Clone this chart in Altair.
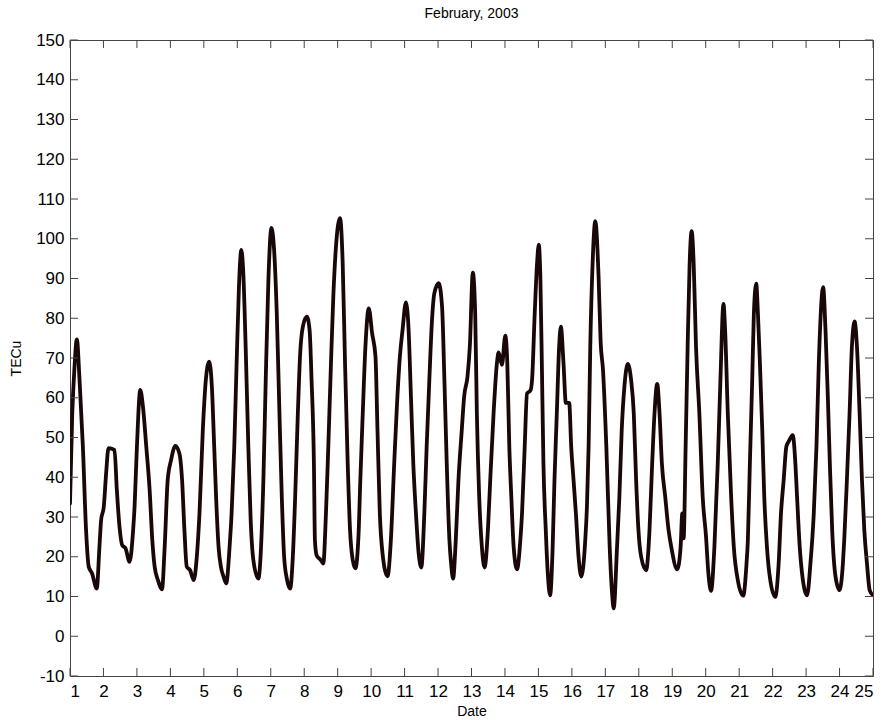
import altair as alt
import pandas as pd

chart_title = "February, 2003"
x_title = "Date"
y_title = "TECu"

days = [
    1.00, 1.066, 1.135, 1.205, 1.285, 1.385, 1.48, 1.56, 1.66, 1.80,
    1.88, 1.93, 2.01, 2.08, 2.15, 2.33, 2.40, 2.48, 2.56, 2.66,
    2.78, 2.88, 2.93, 3.00, 3.10, 3.18, 3.28, 3.38, 3.46, 3.53,
    3.63, 3.75, 3.83, 3.92, 4.02, 4.15, 4.27, 4.35, 4.42, 4.49,
    4.59, 4.70, 4.79, 4.87, 4.97, 5.06, 5.16, 5.24, 5.31, 5.37,
    5.44, 5.51, 5.59, 5.67, 5.77, 5.83, 5.91, 5.98, 6.05, 6.12,
    6.18, 6.25, 6.33, 6.40, 6.48, 6.63, 6.71, 6.78, 6.85, 6.93,
    7.02, 7.10, 7.18, 7.26, 7.33, 7.40, 7.48, 7.58, 7.66, 7.73,
    7.81, 7.88, 7.96, 8.08, 8.16, 8.22, 8.29, 8.32, 8.37, 8.49,
    8.57, 8.65, 8.72, 8.80, 8.87, 8.95, 9.07, 9.15, 9.22, 9.30,
    9.37, 9.45, 9.53, 9.63, 9.67, 9.75, 9.83, 9.93, 10.03, 10.13,
    10.19, 10.26, 10.34, 10.49, 10.59, 10.69, 10.77, 10.86, 10.94, 11.04,
    11.12, 11.19, 11.26, 11.34, 11.42, 11.50, 11.59, 11.66, 11.74, 11.82,
    11.89, 12.02, 12.12, 12.19, 12.26, 12.34, 12.39, 12.45, 12.53, 12.61,
    12.71, 12.78, 12.88, 12.95, 13.04, 13.11, 13.16, 13.23, 13.31, 13.39,
    13.49, 13.56, 13.66, 13.76, 13.81, 13.91, 14.01, 14.07, 14.13, 14.19,
    14.26, 14.36, 14.46, 14.51, 14.59, 14.66, 14.76, 14.81, 14.89, 14.96,
    15.01, 15.06, 15.11, 15.15, 15.22, 15.28, 15.35, 15.42, 15.48, 15.55,
    15.62, 15.67, 15.75, 15.82, 15.92, 15.98, 16.05, 16.12, 16.20, 16.28,
    16.40, 16.45, 16.50, 16.55, 16.62, 16.70, 16.80, 16.86, 16.93, 17.03,
    17.13, 17.20, 17.25, 17.35, 17.42, 17.49, 17.57, 17.67, 17.77, 17.85,
    17.92, 17.99, 18.07, 18.22, 18.32, 18.40, 18.47, 18.55, 18.62, 18.69,
    18.79, 18.89, 18.97, 19.15, 19.25, 19.30, 19.34, 19.40, 19.46, 19.52,
    19.58, 19.64, 19.71, 19.81, 19.91, 20.01, 20.08, 20.16, 20.26, 20.36,
    20.44, 20.53, 20.58, 20.66, 20.76, 20.84, 20.96, 21.12, 21.22, 21.26,
    21.32, 21.39, 21.44, 21.51, 21.56, 21.62, 21.69, 21.75, 21.83, 21.93,
    22.08, 22.18, 22.25, 22.33, 22.41, 22.48, 22.60, 22.68, 22.73, 22.81,
    22.88, 23.03, 23.13, 23.23, 23.31, 23.38, 23.51, 23.58, 23.65, 23.71,
    23.78, 23.88, 24.00, 24.10, 24.14, 24.22, 24.30, 24.37, 24.45, 24.52,
    24.60, 24.67, 24.74, 24.82, 24.90, 25.00,
]

tec = [
    33.4, 55.6, 67.8, 74.7, 64.5, 47.7, 26.7, 17.5, 15.8, 12.0,
    22.5, 29.2, 32.6, 41.0, 47.3, 46.9, 36.8, 27.5, 22.9, 22.1,
    18.7, 25.9, 32.6, 47.7, 62.0, 57.8, 47.7, 36.8, 24.2, 17.5,
    14.1, 11.8, 22.5, 39.3, 44.3, 47.9, 46.0, 39.3, 26.7, 17.5,
    16.6, 14.1, 20.0, 30.9, 51.9, 64.5, 69.1, 62.8, 47.7, 34.3,
    22.5, 17.5, 15.0, 13.3, 22.5, 30.9, 47.7, 68.7, 88.0, 97.2,
    91.3, 72.9, 47.7, 29.2, 19.2, 14.5, 22.5, 39.3, 64.5, 89.7,
    102.7, 97.2, 81.3, 56.1, 35.1, 20.0, 14.5, 12.0, 20.0, 35.1,
    56.1, 71.2, 77.9, 80.4, 77.1, 64.5, 43.5, 24.2, 20.4, 19.2,
    18.3, 30.9, 47.7, 68.7, 85.5, 98.1, 105.2, 93.9, 68.7, 43.5,
    26.7, 19.2, 17.1, 26.7, 37.6, 56.1, 72.9, 82.5, 76.2, 70.4,
    51.9, 30.9, 20.9, 15.1, 24.2, 43.5, 57.8, 70.4, 77.1, 84.0,
    77.1, 60.3, 43.5, 30.9, 20.9, 17.3, 30.9, 47.7, 64.5, 79.6,
    86.3, 88.8, 82.9, 64.5, 43.5, 24.2, 18.3, 14.5, 24.2, 39.3,
    51.9, 60.3, 65.3, 72.9, 91.5, 81.3, 56.1, 35.1, 22.5, 17.3,
    26.7, 39.3, 56.1, 68.7, 71.4, 68.3, 75.6, 68.7, 47.7, 35.1,
    22.5, 16.8, 24.2, 30.9, 47.7, 61.1, 61.8, 64.5, 81.3, 93.9,
    98.5, 89.7, 64.5, 43.5, 26.7, 15.8, 10.3, 20.9, 39.3, 56.1,
    72.9, 77.9, 68.7, 58.7, 58.7, 47.7, 39.3, 30.9, 20.0, 15.0,
    24.2, 32.6, 47.7, 72.9, 93.9, 104.4, 90.0, 74.0, 67.0, 47.7,
    22.5, 11.0, 7.0, 22.5, 35.1, 51.9, 62.8, 68.5, 64.5, 56.1,
    39.3, 26.7, 20.0, 16.6, 26.7, 43.5, 56.1, 63.5, 56.1, 43.5,
    35.1, 26.7, 22.5, 16.8, 22.5, 30.9, 24.6, 47.7, 72.9, 93.9,
    101.9, 93.9, 72.9, 56.1, 35.1, 25.0, 15.8, 11.4, 22.5, 43.5,
    64.5, 83.6, 77.1, 56.1, 35.1, 22.5, 14.1, 10.2, 18.3, 24.2,
    43.5, 64.5, 81.3, 88.7, 81.3, 68.7, 51.9, 35.1, 22.5, 14.1,
    9.9, 18.3, 30.9, 39.3, 47.7, 49.0, 50.6, 43.5, 35.1, 22.5,
    15.8, 10.3, 18.3, 30.9, 47.7, 68.7, 87.8, 77.1, 60.3, 43.5,
    26.7, 15.0, 11.6, 18.3, 24.2, 39.3, 56.1, 72.9, 79.2, 72.9,
    56.1, 39.3, 26.7, 18.3, 11.6, 10.3,
]

x_ticks = list(range(1, 26))
y_ticks = list(range(-10, 151, 10))

W, H = 803, 636
FONT = "Liberation Sans"
AX = "#444444"

df = pd.DataFrame({"day": days, "tec": tec})
xt = pd.DataFrame({"day": x_ticks})
yt = pd.DataFrame({"tec": y_ticks})

xs = alt.Scale(domain=[1, 25], nice=False, zero=False)
ys = alt.Scale(domain=[-10, 150], nice=False, zero=False)

x_axis = alt.Axis(
    values=x_ticks, title=x_title, labelExpr="'' + datum.value", ticks=False, tickSize=0,
    domain=False, grid=False, labelPadding=7, labelFontSize=17,
    titleFontSize=14, titlePadding=5, labelColor="black", titleColor="black",
    labelFont=FONT, titleFont=FONT, titleFontWeight="normal",
)
y_axis = alt.Axis(
    values=y_ticks, title=y_title, labelExpr="'' + datum.value", ticks=False, tickSize=0,
    domain=False, grid=False, labelPadding=6, labelFontSize=17,
    titleFontSize=14, titlePadding=12, labelColor="black", titleColor="black",
    labelFont=FONT, titleFont=FONT, titleFontWeight="normal",
)

X = alt.X("day:Q", scale=xs, axis=x_axis, title=x_title)
Y = alt.Y("tec:Q", scale=ys, axis=y_axis, title=y_title)

line = alt.Chart(df).mark_line(
    color="#1a0808", strokeWidth=3.8, interpolate="monotone", clip=True,
    strokeJoin="round", strokeCap="round"
).encode(x=X, y=Y)

tick_len = 8
bottom_ticks = alt.Chart(xt).mark_rule(color=AX, strokeWidth=1).encode(
    x=X, y=alt.value(H), y2=alt.value(H - tick_len)
)
top_ticks = alt.Chart(xt).mark_rule(color=AX, strokeWidth=1).encode(
    x=X, y=alt.value(0), y2=alt.value(tick_len)
)
left_ticks = alt.Chart(yt).mark_rule(color=AX, strokeWidth=1).encode(
    y=Y, x=alt.value(0), x2=alt.value(tick_len)
)
right_ticks = alt.Chart(yt).mark_rule(color=AX, strokeWidth=1).encode(
    y=Y, x=alt.value(W), x2=alt.value(W - tick_len)
)

chart = alt.layer(line, bottom_ticks, top_ticks, left_ticks, right_ticks).properties(
    width=W, height=H,
    title=alt.TitleParams(chart_title, fontSize=14, font=FONT, fontWeight="normal",
                          color="black", anchor="middle", offset=10),
    autosize=alt.AutoSizeParams(type="none"),
    padding={"left": 70, "top": 40, "right": 10, "bottom": 44},
    background="white",
).configure_view(stroke=AX, strokeWidth=1)

chart.save("out.html", embed_options={"renderer": "svg", "actions": False})
